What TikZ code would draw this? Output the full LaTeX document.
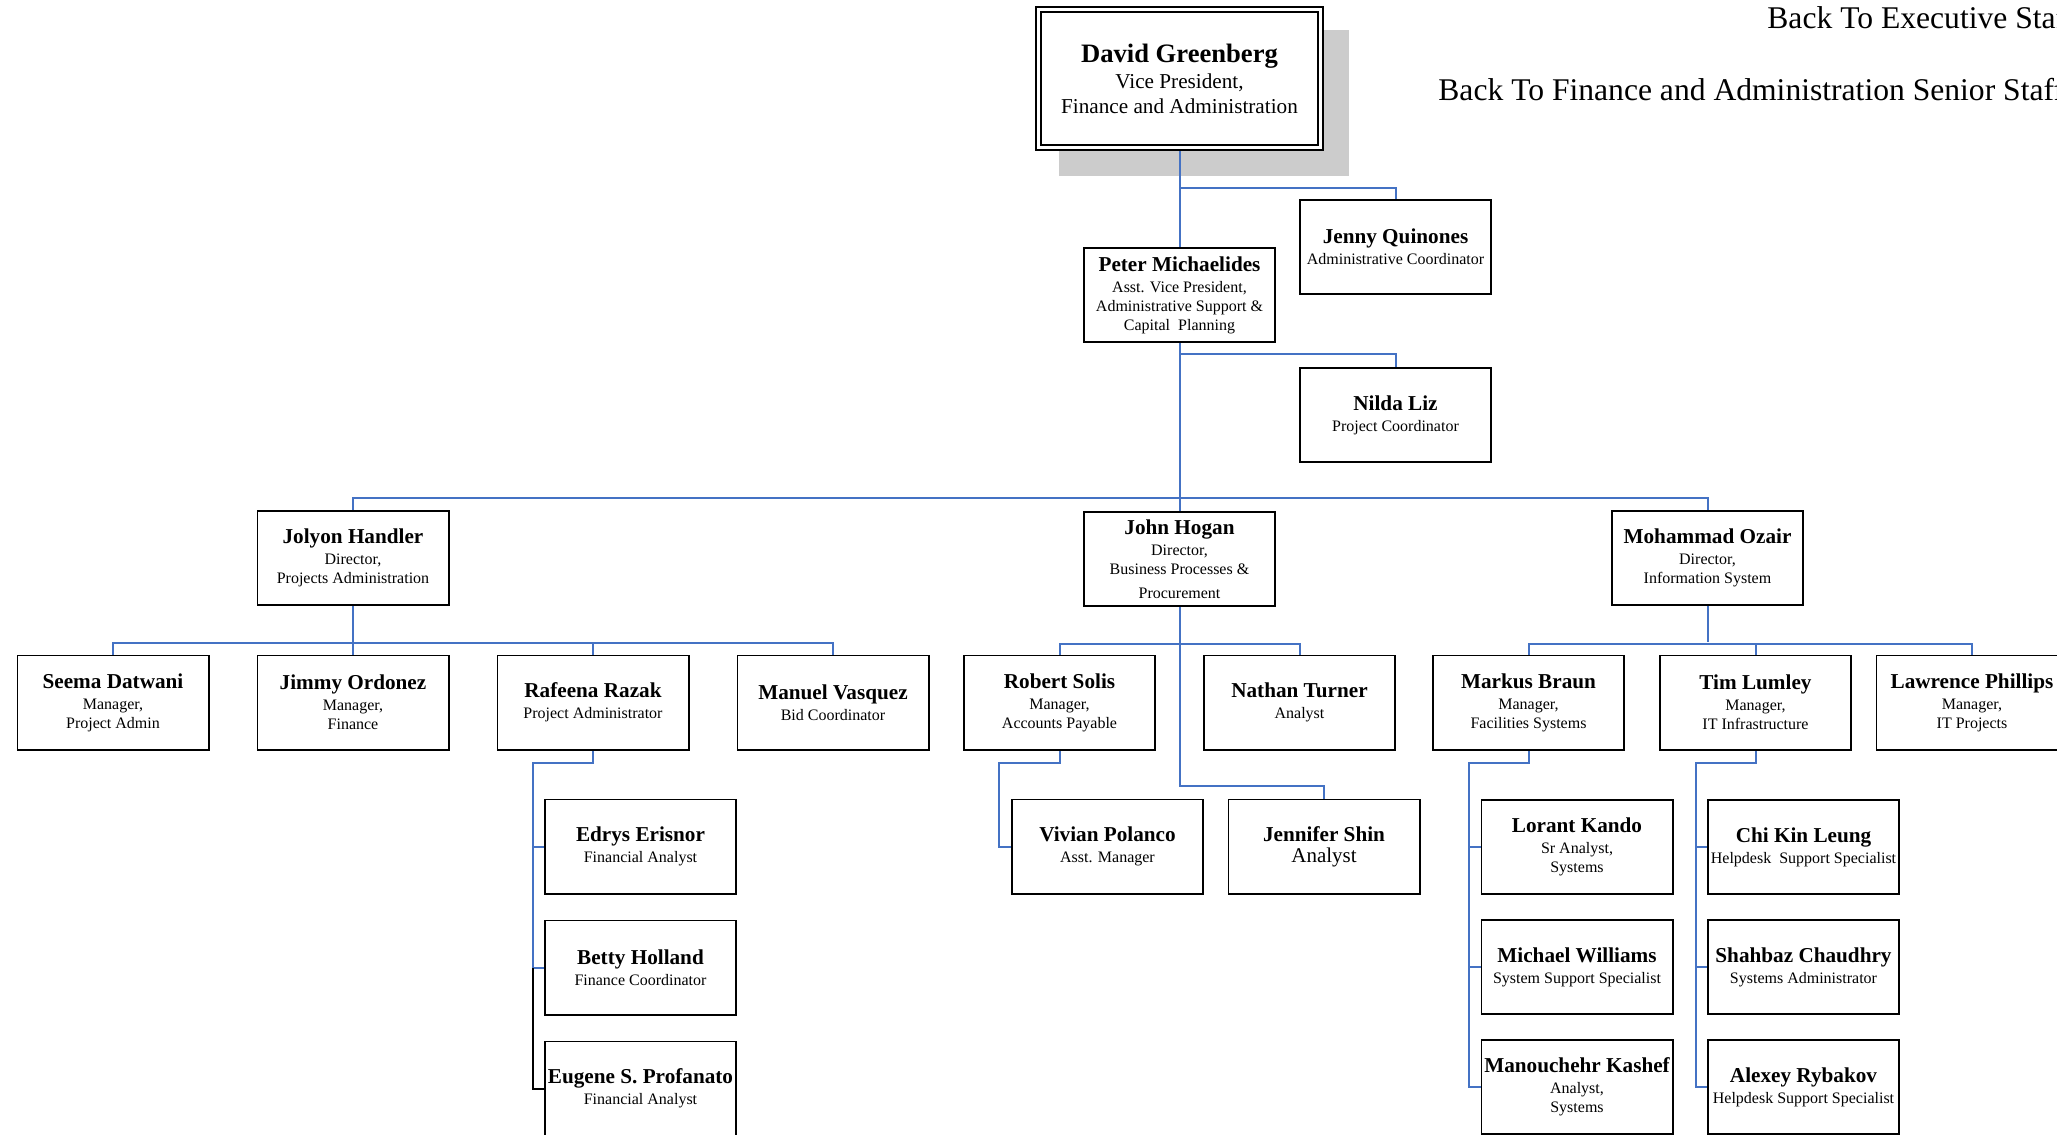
\documentclass[tikz,border=0pt]{standalone}
\usepackage{fontspec}
\setmainfont{Liberation Serif}
\usepackage{tikz}
\usetikzlibrary{positioning, backgrounds}
\definecolor{linkblue}{RGB}{68,114,196}
\definecolor{shadowgray}{RGB}{204,204,204}
\newcommand{\nm}[1]{{\fontsize{10.6}{12}\selectfont\bfseries #1}}
\tikzstyle{staffbox} = [draw=black, fill=white, line width=0.9pt, rectangle, minimum width=95.6pt, minimum height=47.1pt, inner sep=0pt, align=center, font=\fontsize{8}{9.5}\selectfont]
\tikzstyle{vpbox} = [draw=black, fill=white, line width=1pt, double=white, double distance=1.5pt, rectangle, minimum width=141pt, minimum height=69pt, inner sep=0pt, align=center, font=\fontsize{10.6}{12.5}\selectfont]
\tikzstyle{link} = [draw=linkblue, line width=1pt]
\tikzstyle{backlink} = [anchor=base west, inner sep=0pt, font=\fontsize{15.8}{18}\selectfont]

\begin{document}
\begin{tikzpicture}[x=0.5pt, y=-0.5pt, node distance=12.5pt]
	\useasboundingbox (0,0) rectangle (2057,1135);
	\node [backlink] (backexec) at (1767,28) {Back To Executive Staff};
	\node [backlink] (backfin) at (1438,100) {Back To Finance and Administration Senior Staff};

	\node [vpbox] (greenberg) at (1179.5,78.5) {{\fontsize{13.3}{14}\selectfont\bfseries David Greenberg}\\[0.5pt]Vice President,\\Finance and Administration};
	\node [staffbox] (quinones) at (1395.5,247) {\nm{Jenny Quinones}\\[1pt]Administrative Coordinator};
	\node [staffbox] (michaelides) at (1179.5,295) {\nm{Peter Michaelides}\\[1pt]Asst. Vice President,\\Administrative Support \&\\Capital~~Planning};
	\node [staffbox] (liz) at (1395.5,415) {\nm{Nilda Liz}\\[1pt]Project Coordinator};

	\node [staffbox] (handler) at (353,558) {\nm{Jolyon Handler}\\[1pt]Director,\\Projects Administration};
	\node [staffbox] (hogan) at (1179.5,559) {\nm{John Hogan}\\[1pt]Director,\\Business Processes \&\\[2.5pt]Procurement};
	\node [staffbox] (ozair) at (1707.5,558) {\nm{Mohammad Ozair}\\[1pt]Director,\\Information System};

	\node [staffbox] (datwani) at (113,702.5) {\nm{Seema Datwani}\\[1pt]Manager,\\Project Admin};
	\node [staffbox] (ordonez) at (353,702.5) {\nm{Jimmy Ordonez}\\[1pt]Manager,\\Finance};
	\node [staffbox] (razak) at (593,702.5) {\nm{Rafeena Razak}\\[1pt]Project Administrator};
	\node [staffbox] (vasquez) at (833,702.5) {\nm{Manuel Vasquez}\\[1pt]Bid Coordinator};
	\node [staffbox] (solis) at (1059.5,702.5) {\nm{Robert Solis}\\[1pt]Manager,\\Accounts Payable};
	\node [staffbox] (turner) at (1299.5,702.5) {\nm{Nathan Turner}\\[1pt]Analyst};
	\node [staffbox] (braun) at (1528.5,702.5) {\nm{Markus Braun}\\[1pt]Manager,\\Facilities Systems};
	\node [staffbox] (lumley) at (1755.5,702.5) {\nm{Tim Lumley}\\[1pt]Manager,\\IT Infrastructure};
	\node [staffbox] (phillips) at (1972,702.5) {\nm{Lawrence Phillips}\\[1pt]Manager,\\IT Projects};

	\node [staffbox] (erisnor) at (640.5,846.5) {\nm{Edrys Erisnor}\\[1pt]Financial Analyst};
	\node [staffbox, below=of erisnor] (holland) {\nm{Betty Holland}\\[1pt]Finance Coordinator};
	\node [staffbox, below=of holland] (profanato) {\nm{Eugene S. Profanato}\\[1pt]Financial Analyst};
	\node [staffbox] (polanco) at (1107.5,846.5) {\nm{Vivian Polanco}\\[1pt]Asst. Manager};
	\node [staffbox] (shin) at (1324,846.5) {\nm{Jennifer Shin}\\[1pt]{\fontsize{10.5}{12}\selectfont Analyst}};
	\node [staffbox] (kando) at (1577,847) {\nm{Lorant Kando}\\[1pt]Sr Analyst,\\Systems};
	\node [staffbox, below=12pt of kando] (williams) {\nm{Michael Williams}\\[1pt]System Support Specialist};
	\node [staffbox, below=12pt of williams] (kashef) {\nm{Manouchehr Kashef}\\[1pt]Analyst,\\Systems};
	\node [staffbox] (leung) at (1803.5,847) {\nm{Chi Kin Leung}\\[1pt]Helpdesk~~Support Specialist};
	\node [staffbox, below=12pt of leung] (chaudhry) {\nm{Shahbaz Chaudhry}\\[1pt]Systems Administrator};
	\node [staffbox, below=12pt of chaudhry] (rybakov) {\nm{Alexey Rybakov}\\[1pt]Helpdesk Support Specialist};

	\begin{scope}[on background layer]
		\fill [shadowgray] (1059,30) rectangle (1349,176);
		\draw [link] (greenberg.south) -- (michaelides.north);
		\draw [link] (greenberg.south) ++(0,39) -| (quinones.north);
		\draw [link] (michaelides.south) -- (hogan.north);
		\draw [link] (michaelides.south) ++(0,11) -| (liz.north);
		\draw [link] (handler.north) -- ++(0,-12) -| (ozair.north);

		\draw [link] (handler.south) -- (ordonez.north);
		\draw [link] (datwani.north) -- ++(0,-12) -| (vasquez.north);
		\draw [link] (razak.north) -- ++(0,-12);
		\draw [link] (razak.south) -- ++(0,12) -| ([xshift=-5.5pt]erisnor.west) -- (erisnor.west);
		\draw [link] ([xshift=-5.5pt]erisnor.west) |- (holland.west);
		\draw [line width=1pt] ([xshift=-5.5pt]holland.west) |- (profanato.west);

		\draw [link] (solis.north) -- ++(0,-11) -| (turner.north);
		\draw [link] (hogan.south) -- ++(0,179) -| (shin.north);
		\draw [link] (solis.south) -- ++(0,12) -| ([xshift=-6pt]polanco.west) -- (polanco.west);

		\draw [link] (ozair.south) -- ++(0,36);
		\draw [link] (braun.north) -- ++(0,-11) -| (phillips.north);
		\draw [link] (lumley.north) -- ++(0,-11);
		\draw [link] (braun.south) -- ++(0,12) -| ([xshift=-6pt]kando.west) -- (kando.west);
		\draw [link] ([xshift=-6pt]kando.west) |- (kashef.west);
		\draw [link] ([xshift=-6pt]williams.west) -- (williams.west);
		\draw [link] (lumley.south) -- ++(0,12) -| ([xshift=-5.5pt]leung.west) -- (leung.west);
		\draw [link] ([xshift=-5.5pt]leung.west) |- (rybakov.west);
		\draw [link] ([xshift=-5.5pt]chaudhry.west) -- (chaudhry.west);
	\end{scope}
\end{tikzpicture}
\end{document}
